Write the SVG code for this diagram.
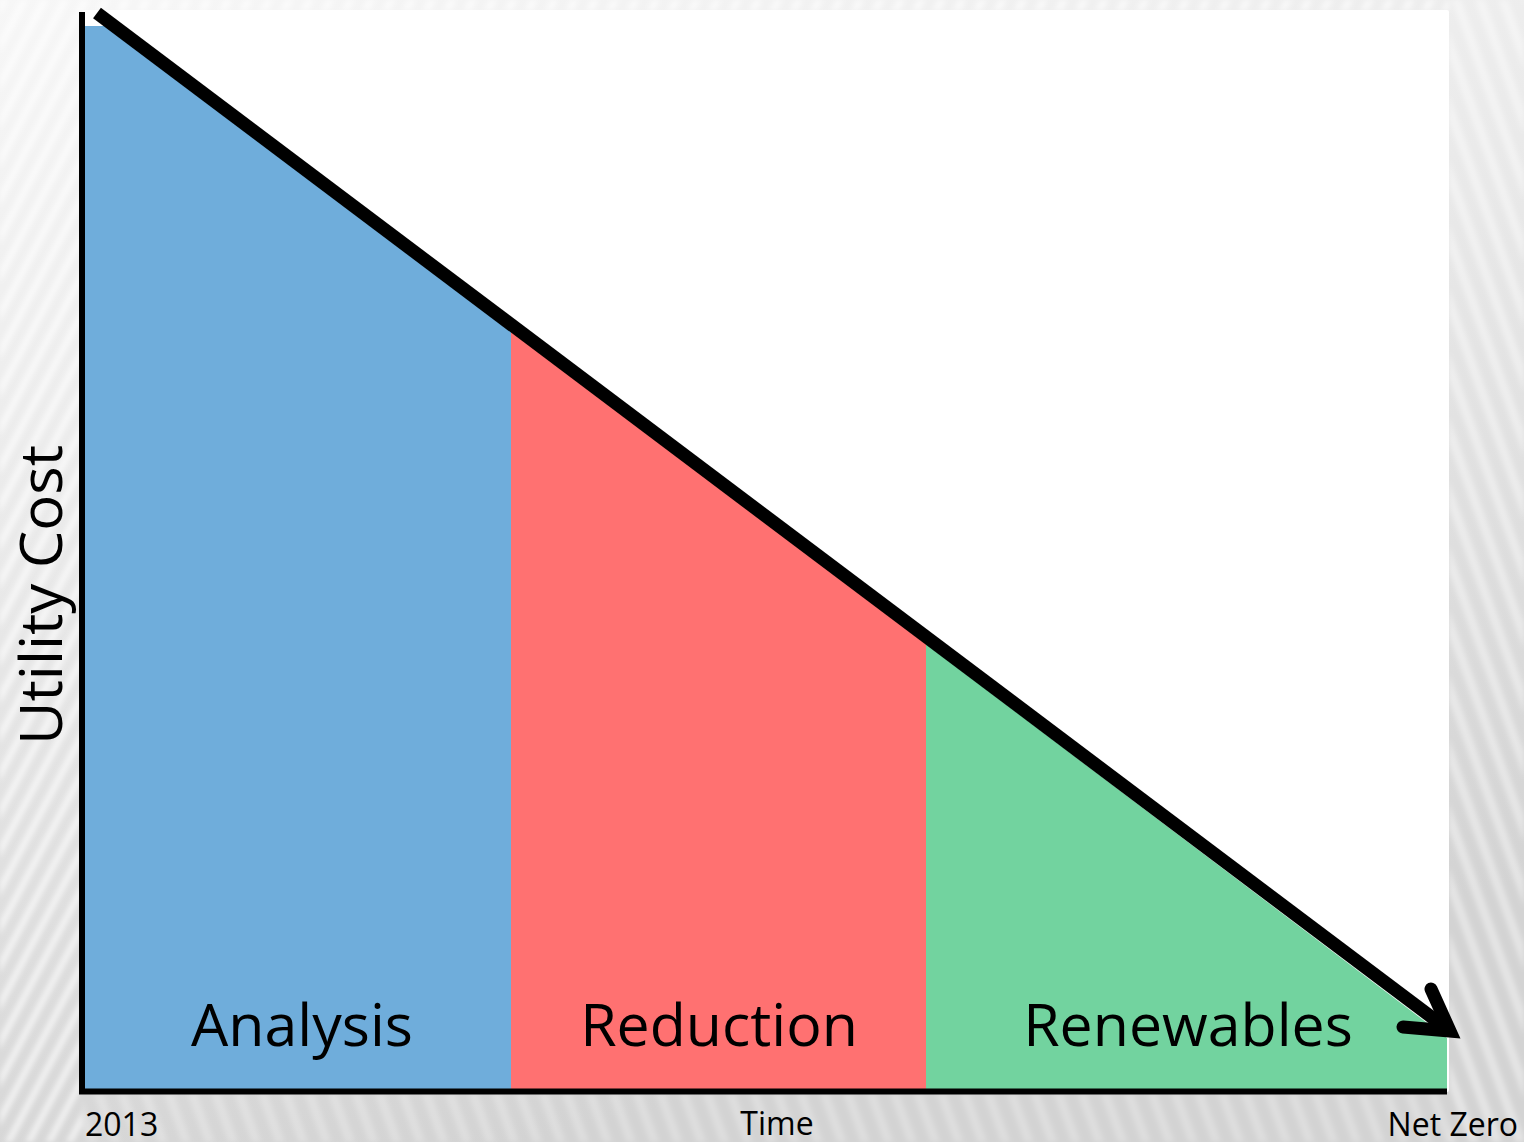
<svg xmlns="http://www.w3.org/2000/svg" width="1524" height="1142" viewBox="0 0 1524 1142">
  <defs>
    <linearGradient id="bg" x1="0" y1="0" x2="0.35" y2="1">
      <stop offset="0" stop-color="#f7f7f7"/>
      <stop offset="0.45" stop-color="#e9e9e9"/>
      <stop offset="1" stop-color="#d3d3d3"/>
    </linearGradient>
    <filter id="soft" x="0" y="0" width="1" height="1">
      <feGaussianBlur stdDeviation="2.5"/>
    </filter>
    <pattern id="stripesL" width="18" height="18" patternUnits="userSpaceOnUse" patternTransform="rotate(28)">
      <rect x="0" y="0" width="7" height="18" fill="#ffffff" opacity="0.6"/>
    </pattern>
    <pattern id="stripesR" width="22" height="22" patternUnits="userSpaceOnUse" patternTransform="rotate(-20)">
      <rect x="0" y="0" width="9" height="22" fill="#ffffff" opacity="0.4"/>
    </pattern>
    <style>
      .lbl { font-family: "Open Sans", "Liberation Sans", sans-serif; fill: #000000; }
      .big { font-size: 59px; }
      .small { font-size: 32px; }
      .axis { stroke: #000000; stroke-width: 6; fill: none; }
      .trend { stroke: #000000; stroke-width: 13; fill: none; }
    </style>
  </defs>

  <g id="background">
    <rect x="0" y="0" width="1524" height="1142" fill="url(#bg)"/>
    <g filter="url(#soft)">
      <rect x="0" y="0" width="82" height="1142" fill="url(#stripesL)"/>
      <rect x="1449" y="0" width="75" height="1142" fill="url(#stripesR)"/>
      <rect x="82" y="1094" width="1367" height="48" fill="url(#stripesR)" opacity="0.6"/>
      <rect x="82" y="0" width="1367" height="10" fill="url(#stripesL)"/>
    </g>
  </g>

  <g id="panel">
    <rect x="82" y="10" width="1367" height="1082" rx="2" fill="#ffffff"/>
  </g>

  <g id="analysis">
    <polygon points="85,26 105,26 511,331 511,1089 85,1089" fill="#6FADDB"/>
    <text class="lbl big" x="302" y="1046" text-anchor="middle">Analysis</text>
  </g>
  <g id="reduction">
    <polygon points="511,331 926,644 926,1089 511,1089" fill="#FF7171"/>
    <text class="lbl big" x="719" y="1046" text-anchor="middle">Reduction</text>
  </g>
  <g id="renewables">
    <polygon points="926,644 1447,1038 1447,1089 926,1089" fill="#72D39F"/>
    <text class="lbl big" x="1188" y="1046" text-anchor="middle">Renewables</text>
  </g>

  <g id="axes">
    <line class="axis" x1="82" y1="12" x2="82" y2="1094"/>
    <line class="axis" x1="79" y1="1091.5" x2="1447" y2="1091.5" stroke-width="7"/>
  </g>

  <g id="connectors">
    <line class="trend" x1="97" y1="13" x2="1446" y2="1028"/>
    <path class="trend" d="M1431,989 L1450,1031 L1403,1027" stroke-width="14" stroke-linecap="round" stroke-linejoin="miter"/>
  </g>

  <g id="labels">
    <text class="lbl" font-size="58" transform="translate(62,595) rotate(-90)" text-anchor="middle" textLength="300" lengthAdjust="spacingAndGlyphs">Utility Cost</text>
    <text class="lbl small" x="85" y="1136">2013</text>
    <text class="lbl small" x="777" y="1135" text-anchor="middle">Time</text>
    <text class="lbl small" x="1518" y="1136" text-anchor="end">Net Zero</text>
  </g>
</svg>
